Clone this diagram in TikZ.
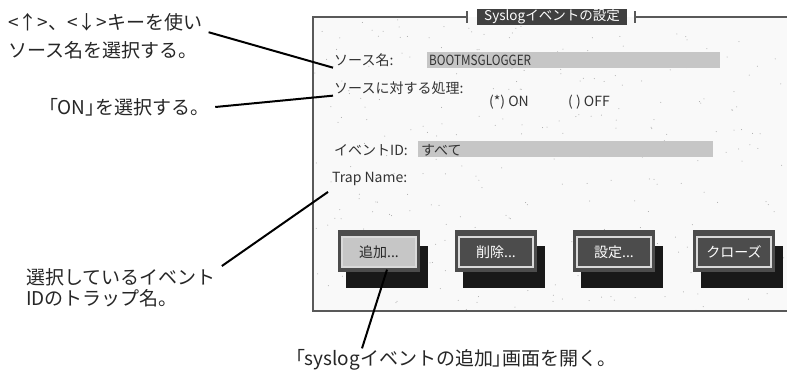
\documentclass[tikz,border=0pt]{standalone}
\usepackage{fontspec}
\setmainfont{Noto Sans CJK JP}
\newfontfamily\pal[RawFeature=+palt]{Noto Sans CJK JP}
\newfontfamily\narrow[FakeStretch=0.84]{Noto Sans CJK JP}
\usetikzlibrary{calc,
	positioning}
\tikzstyle{txt}=[anchor=west, inner xsep=6pt, inner ysep=2pt, font=\fontsize{19}{22}\selectfont, text=black!85]
\tikzstyle{scr}=[anchor=west, inner sep=1pt, font=\fontsize{14}{16}\selectfont, text=black!80]
\tikzstyle{fld}=[fill=gray!45, draw=none]
\tikzstyle{frm}=[draw=black!65, line width=1.2pt]
\tikzstyle{shd}=[fill=black!90, minimum width=82, minimum height=42, inner sep=0]
\tikzstyle{face}=[fill=black!70, minimum width=82, minimum height=42, inner sep=0]
\tikzstyle{btn}=[draw=white!85!black, line width=1.3pt, fill=black!70, text=white, minimum width=74, minimum height=30, inner sep=0, font=\fontsize{14}{16}\selectfont]
\tikzstyle{ln}=[draw=black, line width=2pt]

\begin{document}
\begin{tikzpicture}[x=1pt, y=-1pt]
        \useasboundingbox (0,0) rectangle (787,375);
        % screen
        \fill[gray!5] (313,17) rectangle (787,311);
        \pgfmathsetseed{7}
        \foreach \i in {1,...,320} {
            \pgfmathsetmacro\dx{313+474*rnd}
            \pgfmathsetmacro\dy{17+294*rnd}
            \fill[gray!70] (\dx,\dy) circle (0.5);
        }
        \draw[frm] (467,17) -- (313,17) -- (313,311) -- (787,311);
        \draw[frm] (635,17) -- (787,17);
        \draw[frm] (467,11) -- (467,23);
        \draw[frm] (635,11) -- (635,23);
        \node[fill=black!75, text=white, minimum width=150, minimum height=16, inner sep=0,
            font=\fontsize{13.5}{15}\selectfont] (ttl) at (552,17) {Syslogイベントの設定};

        \fill[fld] (427,52) rectangle (720,68);
        \fill[fld] (418,141) rectangle (713,157);
        \node[scr] (s1) at (333,60) {ソース名:};
        \node[scr, font=\narrow\fontsize{14}{16}\selectfont] (v1) at (428,60) {BOOTMSGLOGGER};
        \node[scr] (s2) at (333,88) {ソースに対する処理:};
        \node[scr] (on) at (488,102) {(*) ON};
        \node[scr] (off) at (567,102) {( ) OFF};
        \node[scr] (s3) at (333,150) {イベントID:};
        \node[scr] (v3) at (420,150) {すべて};
        \node[scr] (s4) at (331,179) {Trap Name:};

        % buttons
        \foreach \x/\t/\n in {379/{追加...}/b1, 496/{削除...}/b2, 614/{設定...}/b3, 734/{クローズ}/b4} {
            \node[shd] at (\x+8,251+16) {};
            \node[face] at (\x,251) {};
            \node[btn] (\n) at (\x,252) {\t};
        }
        \node[btn, fill=gray!45, text=black!85] (b1) at (379,252) {追加...};

        % callouts
        \node[txt] (k1a) at (2,22) {<↑>、<↓>キーを使い};
        \node[txt] (k1b) at (2,50) {ソース名を選択する。};
        \node[txt] (k2) at (42,107) {{\pal 「}ON{\pal 」}を選択する。};
        \node[txt] (k3a) at (20,277) {選択しているイベント};
        \node[txt] (k3b) at (20,298) {IDのトラップ名。};
        \node[txt] (k4) at (289,360) {{\pal 「}syslogイベントの追加{\pal 」}画面を開く。};

        \draw[ln] ($(k1a.base east)+(0,3)$) -- (s1.south west);
        \draw[ln] (k2.east) -- (s2.south west);
        \draw[ln] (k3a.north east) -- ($(s4.south west)+(-3,5)$);
        \draw[ln] ($(k4.north west)+(73,1)$) -- ($(b1.south)+(8,2)$);
    \end{tikzpicture}
\end{document}
